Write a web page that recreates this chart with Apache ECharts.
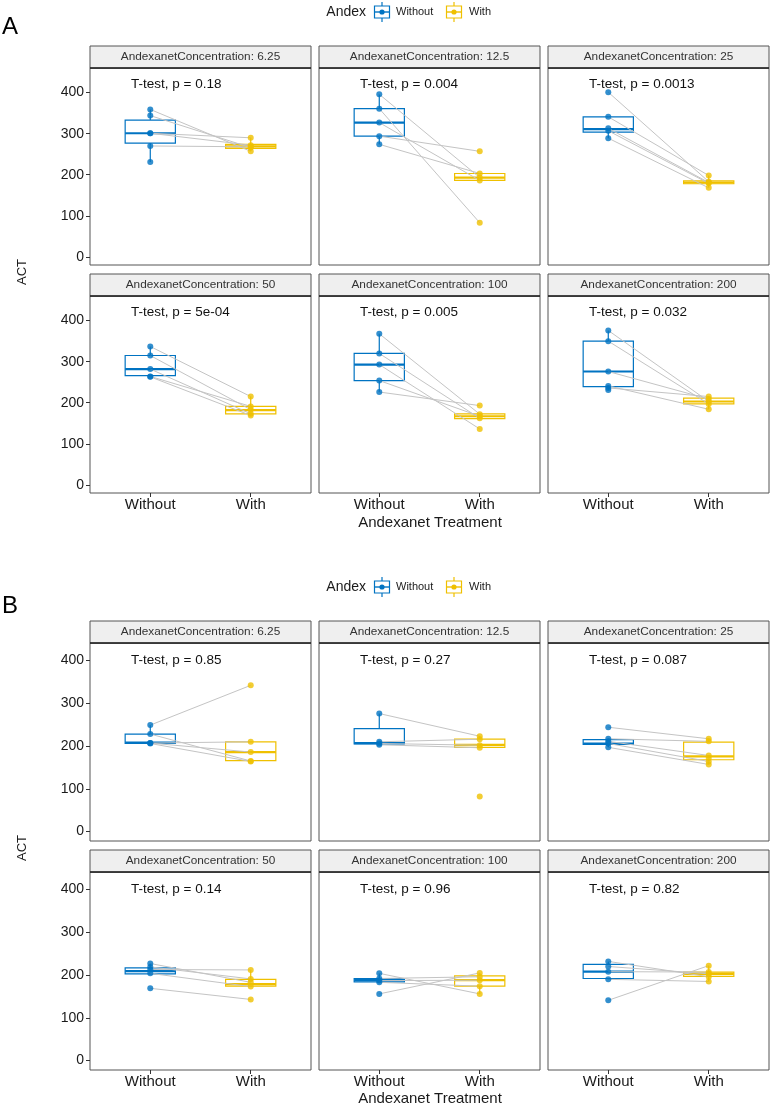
<!DOCTYPE html>
<html>
<head>
<meta charset="utf-8">
<title>ACT with and without Andexanet</title>
<script src="https://cdn.jsdelivr.net/npm/echarts@6.0.0/dist/echarts.min.js"></script>
<style>
  html, body { margin: 0; padding: 0; background: #fff; }
  #main { width: 776px; height: 1110px; }
</style>
</head>
<body>
<div id="main"></div>
<script>
// ---- data ----
var treatments = ['Without', 'With'];
var concentrations = ['6.25', '12.5', '25', '50', '100', '200'];
var yTicks = [0, 100, 200, 300, 400];

// panel A
var pValuesA = ['0.18', '0.004', '0.0013', '5e-04', '0.005', '0.032'];
var actWithoutA = [
  [359, 344, 301, 301, 270, 231],
  [396, 361, 327, 294, 274],
  [401, 341, 313, 307, 289],
  [337, 315, 282, 264, 263],
  [368, 320, 293, 254, 226],
  [376, 350, 276, 241, 236, 231]
];
var actWithA = [
  [257, 266, 290, 272, 268, null],
  [193, 83, 186, 257, 203],
  [183, 198, 181, 179, 168],
  [215, 183, 173, 191, 169],
  [172, 162, 136, 167, 193],
  [203, 197, 209, 184, 215, null]
];
// [lower whisker, Q1, median, Q3, upper whisker]
var boxWithoutA = [
  [231, 277, 301, 333, 359],
  [274, 294, 327, 361, 396],
  [289, 304, 311, 341, 341],
  [263, 266, 282, 315, 337],
  [226, 254, 293, 320, 368],
  [231, 239, 276, 350, 376]
];
var boxWithA = [
  [257, 264, 269, 274, 290],
  [186, 186, 193, 203, 203],
  [168, 178, 181, 185, 198],
  [169, 173, 182, 191, 215],
  [161, 161, 167, 173, 173],
  [184, 197, 203, 211, 215]
];

// panel B
var pValuesB = ['0.85', '0.27', '0.087', '0.14', '0.96', '0.82'];
var actWithoutB = [
  [249, 228, 207, 207, 206],
  [276, 210, 206, 203, null],
  [244, 217, 211, 206, 197, null],
  [227, 219, 213, 204, 169],
  [204, 192, 187, 183, 156],
  [232, 220, 208, 190, 141]
];
var actWithB = [
  [342, 165, 210, 186, 164],
  [223, 216, 202, 196, 82],
  [217, 211, 178, 164, 157, 172],
  [183, 191, 212, 173, 143],
  [156, 196, 188, 174, 205],
  [196, 203, 207, 185, 222]
];
var boxWithoutB = [
  [206, 206, 208, 228, 249],
  [203, 205, 207, 241, 276],
  [197, 204, 206, 215, 217],
  [203, 203, 209, 217, 227],
  [183, 184, 188, 192, 204],
  [190, 192, 208, 225, 232]
];
var boxWithB = [
  [164, 166, 186, 210, 210],
  [196, 197, 203, 216, 223],
  [157, 168, 176, 209, 217],
  [173, 174, 179, 190, 212],
  [156, 174, 188, 198, 205],
  [185, 197, 203, 207, 222]
];

// ---- styling / layout ----
var blue = '#0073C2', yellow = '#EFC000', pairGrey = '#c4c4c4';
var groupColors = [blue, yellow];
var fontFam = '"Liberation Sans", Arial, Helvetica, sans-serif';
var colLeft = [90, 319, 548];
var panelW = 221;
var stripH = 22;
var boxHalf = 0.25;

var panels = [
  { tag: 'A', p: pValuesA, wo: actWithoutA, wi: actWithA, bwo: boxWithoutA, bwi: boxWithA,
    rowTop: [68, 296], plotH: 197, yMin: -20, yMax: 460, labelY: 420,
    legendY: 12, tagY: 27, xTitleY: 523, actY: 272 },
  { tag: 'B', p: pValuesB, wo: actWithoutB, wi: actWithB, bwo: boxWithoutB, bwi: boxWithB,
    rowTop: [643, 872], plotH: 198, yMin: -22, yMax: 441, labelY: 400,
    legendY: 587, tagY: 606, xTitleY: 1099, actY: 848 }
];

function txt(s, x, y, size, align, color, extra) {
  var el = {
    type: 'text', x: x, y: y, silent: true, z: 10,
    style: {
      text: s, x: 0, y: 0, fill: color || '#1a1a1a',
      fontSize: size, fontFamily: fontFam,
      align: align || 'center', verticalAlign: 'middle',
      textAlign: align || 'center', textVerticalAlign: 'middle'
    }
  };
  if (extra) for (var k in extra) el[k] = extra[k];
  return el;
}

function legendIcon(cx, cy, color) {
  return [
    { type: 'line', silent: true, shape: { x1: cx, y1: cy - 10, x2: cx, y2: cy + 10 }, style: { stroke: color, lineWidth: 1.2 } },
    { type: 'rect', silent: true, shape: { x: cx - 7.5, y: cy - 6, width: 15, height: 12 }, style: { fill: '#fff', stroke: color, lineWidth: 1.2 } },
    { type: 'line', silent: true, shape: { x1: cx - 7.5, y1: cy, x2: cx + 7.5, y2: cy }, style: { stroke: color, lineWidth: 1.4 } },
    { type: 'circle', silent: true, shape: { cx: cx, cy: cy, r: 2.6 }, style: { fill: color } }
  ];
}

function renderBox(params, api) {
  var x = api.value(0);
  var color = groupColors[params.dataIndex];
  var lo = api.coord([x, api.value(1)]);
  var q1 = api.coord([x, api.value(2)]);
  var med = api.coord([x, api.value(3)]);
  var q3 = api.coord([x, api.value(4)]);
  var hi = api.coord([x, api.value(5)]);
  var left = api.coord([x - boxHalf, 0])[0];
  var right = api.coord([x + boxHalf, 0])[0];
  return {
    type: 'group',
    children: [
      { type: 'line', shape: { x1: lo[0], y1: lo[1], x2: q1[0], y2: q1[1] }, style: { stroke: color, lineWidth: 1.2 } },
      { type: 'line', shape: { x1: q3[0], y1: q3[1], x2: hi[0], y2: hi[1] }, style: { stroke: color, lineWidth: 1.2 } },
      { type: 'rect', shape: { x: left, y: q3[1], width: right - left, height: Math.max(q1[1] - q3[1], 0.5) },
        style: { fill: '#fff', stroke: color, lineWidth: 1.2 } },
      { type: 'line', shape: { x1: left, y1: med[1], x2: right, y2: med[1] }, style: { stroke: color, lineWidth: 2.2 } }
    ]
  };
}

function renderPair(params, api) {
  var a = api.coord([1, api.value(0)]);
  var b = api.coord([2, api.value(1)]);
  return { type: 'line', shape: { x1: a[0], y1: a[1], x2: b[0], y2: b[1] }, style: { stroke: pairGrey, lineWidth: 1 } };
}

function makeLabelRenderer(p) {
  return function (params, api) {
    var pt = api.coord([api.value(0), api.value(1)]);
    return {
      type: 'text',
      style: {
        text: 'T-test, p = ' + p, x: pt[0], y: pt[1], fill: '#111',
        fontSize: 13.5, fontFamily: fontFam,
        align: 'left', verticalAlign: 'middle', textAlign: 'left', textVerticalAlign: 'middle'
      }
    };
  };
}

var option = {
  animation: false,
  backgroundColor: '#fff',
  grid: [], xAxis: [], yAxis: [], series: [],
  graphic: { elements: [] }
};
var g = option.graphic.elements;

panels.forEach(function (pn) {
  // legend
  g.push(txt('Andex', 366, pn.legendY, 14, 'right', '#1a1a1a'));
  legendIcon(382, pn.legendY, blue).forEach(function (e) { g.push(e); });
  g.push(txt(treatments[0], 396, pn.legendY, 11, 'left', '#1a1a1a'));
  legendIcon(454, pn.legendY, yellow).forEach(function (e) { g.push(e); });
  g.push(txt(treatments[1], 469, pn.legendY, 11, 'left', '#1a1a1a'));
  // panel tag, axis titles
  g.push(txt(pn.tag, 2, pn.tagY, 24, 'left', '#000'));
  g.push(txt('Andexanet Treatment', 430, pn.xTitleY, 15, 'center', '#1a1a1a'));
  g.push(txt('ACT', 22, pn.actY, 13, 'center', '#1a1a1a', { rotation: Math.PI / 2 }));

  concentrations.forEach(function (conc, i) {
    var col = i % 3, row = Math.floor(i / 3);
    var gi = option.grid.length;
    var left = colLeft[col], top = pn.rowTop[row];

    option.grid.push({
      left: left, top: top, width: panelW, height: pn.plotH,
      show: true, borderColor: '#555', borderWidth: 1, backgroundColor: '#fff',
      outerBoundsMode: 'none', containLabel: false
    });
    option.xAxis.push({
      gridIndex: gi, type: 'value', min: 0.4, max: 2.6, position: 'bottom',
      splitLine: { show: false }, axisLine: { show: false, onZero: false },
      axisTick: { show: row === 1, customValues: [1, 2], length: 4, lineStyle: { color: '#333' } },
      axisLabel: { show: row === 1, customValues: [1, 2], margin: 4, fontSize: 15, color: '#1a1a1a', fontFamily: fontFam,
        formatter: function (v) { return treatments[Math.round(v) - 1]; } }
    });
    option.yAxis.push({
      gridIndex: gi, type: 'value', min: pn.yMin, max: pn.yMax, position: 'left',
      splitLine: { show: false }, axisLine: { show: false, onZero: false },
      axisTick: { show: col === 0, customValues: yTicks, length: 4, lineStyle: { color: '#333' } },
      axisLabel: { show: col === 0, customValues: yTicks, margin: 6, fontSize: 14, color: '#1a1a1a', fontFamily: fontFam }
    });

    // strip
    g.push({ type: 'rect', silent: true, z: 5, shape: { x: left, y: top - stripH, width: panelW, height: stripH },
      style: { fill: '#efefef', stroke: '#555', lineWidth: 1 } });
    g.push(txt('AndexanetConcentration: ' + conc, left + panelW / 2, top - stripH / 2, 11.8, 'center', '#333'));
    g.push({ type: 'line', silent: true, z: 6, shape: { x1: left, y1: top, x2: left + panelW, y2: top },
      style: { stroke: '#222', lineWidth: 1.6 } });

    var bw = pn.bwo[i], bi = pn.bwi[i];
    option.series.push({
      type: 'custom', xAxisIndex: gi, yAxisIndex: gi, z: 2, silent: true,
      renderItem: renderBox,
      data: [[1].concat(bw), [2].concat(bi)]
    });

    var wo = pn.wo[i], wi = pn.wi[i];
    var pairs = [], ptsWo = [], ptsWi = [];
    for (var k = 0; k < Math.max(wo.length, wi.length); k++) {
      var a = wo[k], b = wi[k];
      if (a != null) ptsWo.push([1, a]);
      if (b != null) ptsWi.push([2, b]);
      if (a != null && b != null) pairs.push([a, b]);
    }
    option.series.push({
      type: 'custom', xAxisIndex: gi, yAxisIndex: gi, z: 3, silent: true,
      renderItem: renderPair, data: pairs
    });
    option.series.push({
      type: 'scatter', xAxisIndex: gi, yAxisIndex: gi, z: 4, silent: true,
      symbol: 'circle', symbolSize: 6, itemStyle: { color: blue }, data: ptsWo
    });
    option.series.push({
      type: 'scatter', xAxisIndex: gi, yAxisIndex: gi, z: 4, silent: true,
      symbol: 'circle', symbolSize: 6, itemStyle: { color: yellow }, data: ptsWi
    });
    option.series.push({
      type: 'custom', xAxisIndex: gi, yAxisIndex: gi, z: 5, silent: true,
      renderItem: makeLabelRenderer(pn.p[i]), data: [[0.808, pn.labelY]]
    });
  });
});

var chart = echarts.init(document.getElementById('main'));
chart.setOption(option);
</script>
</body>
</html>
